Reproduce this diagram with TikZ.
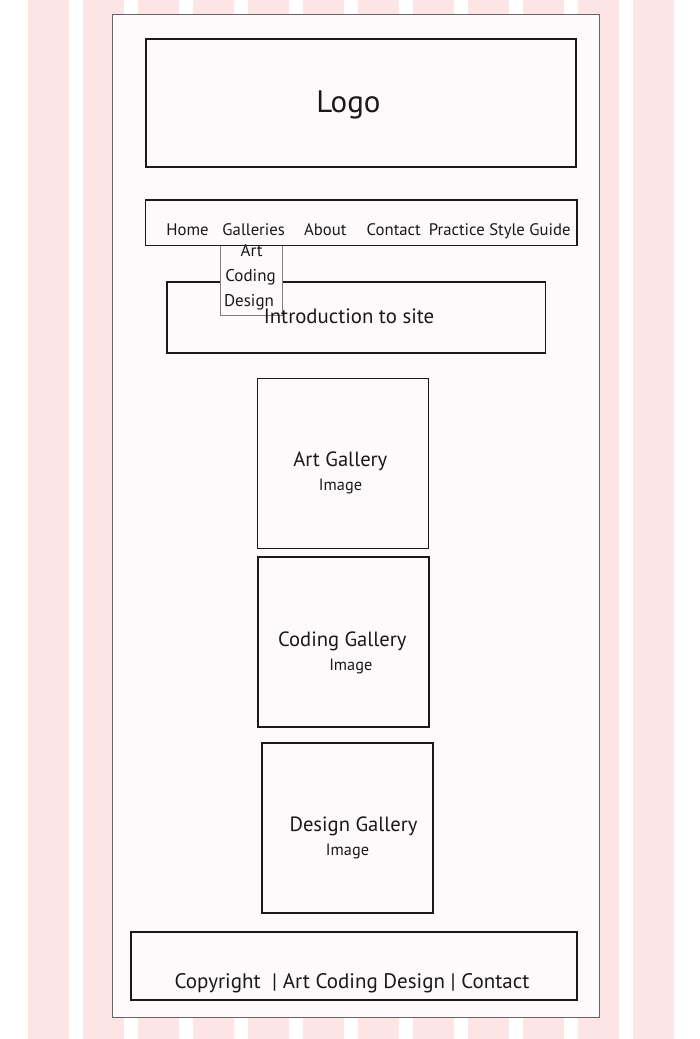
\documentclass[tikz,border=0pt]{standalone}
\usepackage{fontspec}
\setmainfont{PT Sans}
\definecolor{stripe}{RGB}{253,228,229}
\definecolor{paper}{RGB}{254,250,251}
\definecolor{ink}{RGB}{25,25,25}
\begin{document}
\begin{tikzpicture}[x=1pt,y=-1pt,
  box/.style={draw=ink, line width=1.6pt, fill=paper, inner sep=0pt, outer sep=0pt, anchor=north west},
  lbl/.style={inner sep=0pt, anchor=base, text=ink, font=\fontsize{#1}{#1}\selectfont}]
\useasboundingbox (0,0) rectangle (700,1039);
\fill[white] (0,0) rectangle (700,1039);
\foreach \i in {0,...,11} \fill[stripe] (28+55*\i,0) rectangle ++(41,1039);
\node[draw=black!60, line width=0.9pt, fill=paper, anchor=north west, minimum width=487pt, minimum height=1003pt, inner sep=0pt, outer sep=0pt] (page) at (112,14) {};
% logo
\node[box, minimum width=430.5pt, minimum height=128.5pt] (logobox) at (145.7,38.7) {};
\node[lbl=31] (logo) at (348.5,112.7) {Logo};
% intro
\node[box, minimum width=378.5pt, minimum height=71pt] (introbox) at (167,281.7) {};
% dropdown
\node[draw=black!50, line width=0.9pt, fill=paper, anchor=north west, minimum width=61.5pt, minimum height=70pt, inner sep=0pt, outer sep=0pt] (dropbox) at (220.8,245) {};
% nav
\node[box, fill=none, minimum width=431.5pt, minimum height=45.5pt] (navbox) at (145.5,200) {};
\node[lbl=16.7] (home) at (187.5,235) {Home};
\node[lbl=16.7] (galleries) at (253.7,235) {Galleries};
\node[lbl=16.7] (about) at (325.3,235) {About};
\node[lbl=16.7] (contact) at (393.8,235) {Contact};
\node[lbl=16.7] (practice) at (499.7,235) {Practice Style Guide};
\node[lbl=17] (ddart) at (251.7,256.7) {Art};
\node[lbl=17] (ddcoding) at (250.5,281.7) {Coding};
\node[lbl=17] (dddesign) at (249,306.7) {Design};
\node[lbl=20.8] (intro) at (349,323.7) {Introduction to site};
% galleries
\node[box, minimum width=171pt, minimum height=170pt] (artbox) at (257.5,378.3) {};
\node[lbl=20.6] (arttitle) at (340.3,466.7) {Art Gallery};
\node[lbl=16.3] (artimg) at (340.5,490.7) {Image};
\node[box, minimum width=171pt, minimum height=170pt] (codbox) at (258,557) {};
\node[lbl=20.6] (codtitle) at (342.3,646) {Coding Gallery};
\node[lbl=16.3] (codimg) at (350.8,670) {Image};
\node[box, minimum width=171pt, minimum height=170pt] (desbox) at (262,743) {};
\node[lbl=20.6] (destitle) at (353.5,831) {Design Gallery};
\node[lbl=16.3] (desimg) at (347.5,855) {Image};
% footer
\node[box, minimum width=446pt, minimum height=68pt] (footbox) at (131,932) {};
\node[lbl=21] (foot) at (352,988.3) {Copyright\hspace{0.55em}| Art Coding Design | Contact};
\end{tikzpicture}
\end{document}
